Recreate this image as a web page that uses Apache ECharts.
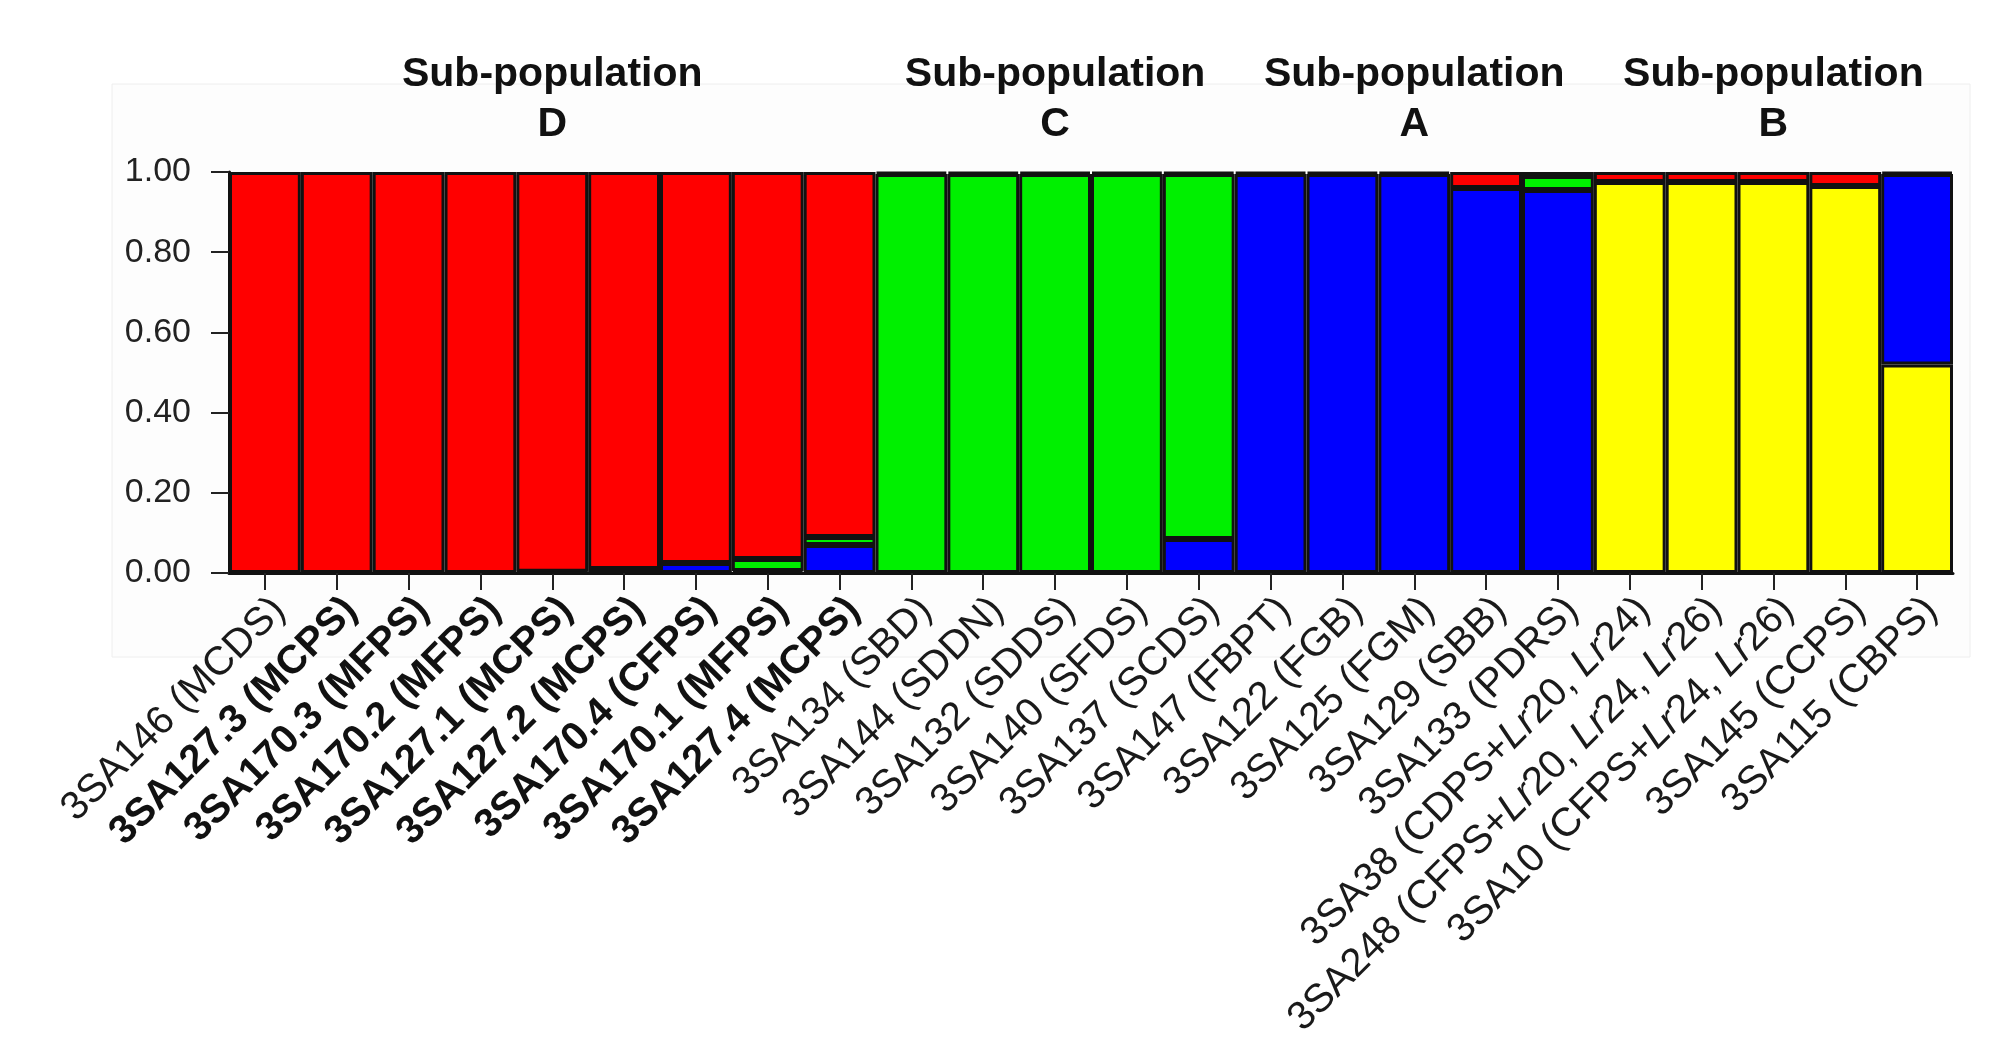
<!DOCTYPE html>
<html><head><meta charset="utf-8">
<script src="https://cdn.jsdelivr.net/npm/echarts@6/dist/echarts.min.js"></script>
<style>html,body{margin:0;padding:0;background:#fff}#c{width:2015px;height:1037px}</style>
</head><body><div id="c"></div>
<script>
// ---- data ----
const samples = [
  '3SA146 (MCDS)', '3SA127.3 (MCPS)', '3SA170.3 (MFPS)', '3SA170.2 (MFPS)', '3SA127.1 (MCPS)',
  '3SA127.2 (MCPS)', '3SA170.4 (CFPS)', '3SA170.1 (MFPS)', '3SA127.4 (MCPS)',
  '3SA134 (SBD)', '3SA144 (SDDN)', '3SA132 (SDDS)', '3SA140 (SFDS)', '3SA137 (SCDS)',
  '3SA147 (FBPT)', '3SA122 (FGB)', '3SA125 (FGM)', '3SA129 (SBB)', '3SA133 (PDRS)',
  '3SA38 (CDPS+Lr20, Lr24)', '3SA248 (CFPS+Lr20, Lr24, Lr26)', '3SA10 (CFPS+Lr24, Lr26)',
  '3SA145 (CCPS)', '3SA115 (CBPS)'
];
const boldSamples = ['3SA127.3 (MCPS)', '3SA170.3 (MFPS)', '3SA170.2 (MFPS)', '3SA127.1 (MCPS)',
  '3SA127.2 (MCPS)', '3SA170.4 (CFPS)', '3SA170.1 (MFPS)', '3SA127.4 (MCPS)'];
const groupNames = ['D', 'C', 'A', 'B'];
const groupSizes = [9, 5, 5, 5];
const groupTitle = 'Sub-population';

// membership coefficients, stacked bottom -> top: yellow, blue, green, red
const yellowK = [0, 0, 0, 0, 0, 0, 0, 0, 0,
  0, 0, 0, 0, 0,
  0, 0, 0, 0, 0,
  0.975, 0.975, 0.975, 0.965, 0.52];
const blueK = [0, 0, 0, 0, 0.003, 0.01, 0.025, 0.005, 0.07,
  0, 0, 0, 0, 0.085,
  0.995, 0.995, 0.995, 0.96, 0.955,
  0, 0, 0, 0, 0.475];
const greenK = [0, 0, 0, 0, 0, 0, 0, 0.03, 0.02,
  0.995, 0.995, 0.995, 0.995, 0.91,
  0, 0, 0, 0, 0.035,
  0, 0, 0, 0, 0];
const redK = [1, 1, 1, 1, 0.997, 0.99, 0.975, 0.965, 0.91,
  0.005, 0.005, 0.005, 0.005, 0.005,
  0.005, 0.005, 0.005, 0.04, 0.01,
  0.025, 0.025, 0.025, 0.035, 0.005];
const yTickLabels = ['0.00', '0.20', '0.40', '0.60', '0.80', '1.00'];

// ---- derived ----
const groupCenters = [];
let acc = 0;
groupSizes.forEach(n => { groupCenters.push(acc + n / 2); acc += n; });

const chart = echarts.init(document.getElementById('c'), null, {renderer: 'canvas'});
const FONT = '"Liberation Sans", Arial, Helvetica, sans-serif';
const LBL = 40;
const clean = arr => arr.map(v => (v === 0 ? null : v));

function mkSeries(name, data, color) {
  return {
    name, type: 'bar', stack: 'k', data: clean(data), xAxisIndex: 0, yAxisIndex: 0,
    barCategoryGap: '0%', barGap: '0%',
    itemStyle: {color, borderColor: '#111', borderWidth: 3},
    emphasis: {disabled: true}, animation: false
  };
}

function xLabel(v) {
  const isBold = boldSamples.indexOf(v) >= 0;
  if (isBold) return '{b|' + v + '}';
  if (v.indexOf('Lr') >= 0) {
    return v.split('Lr').map((p, i) => (i > 0 ? '{i|Lr}' : '') + (p ? '{n|' + p + '}' : '')).join('');
  }
  return '{n|' + v + '}';
}

const option = {
  backgroundColor: '#ffffff',
  animation: false,
  graphic: [{
    type: 'rect', z: -100, silent: true,
    shape: {x: 112, y: 84, width: 1858, height: 573},
    style: {fill: '#fdfdfd', stroke: '#eeeeee', lineWidth: 1}
  }],
  grid: {left: 229, right: 62, top: 172, bottom: 464, containLabel: false, outerBoundsMode: 'none'},
  xAxis: [{
    type: 'category', data: samples, position: 'bottom',
    axisLine: {show: true, lineStyle: {color: '#111', width: 3}},
    axisTick: {show: true, alignWithLabel: true, length: 17, lineStyle: {color: '#222', width: 2}},
    axisLabel: {
      interval: 0, rotate: 45, margin: 17, verticalAlign: 'top',
      formatter: xLabel,
      rich: {
        n: {fontFamily: FONT, fontSize: LBL, color: '#1a1a1a'},
        b: {fontFamily: FONT, fontSize: LBL, fontWeight: 'bold', color: '#111'},
        i: {fontFamily: FONT, fontSize: LBL, fontStyle: 'italic', color: '#1a1a1a'}
      }
    },
    splitLine: {show: false}
  }, {
    type: 'value', position: 'top', min: 0, max: samples.length, interval: 0.5,
    axisLine: {show: false}, axisTick: {show: false}, splitLine: {show: false},
    axisLabel: {
      margin: 22, fontFamily: FONT, fontSize: 41, fontWeight: 'bold', color: '#111',
      lineHeight: 50, align: 'center',
      formatter: function (v) {
        for (let i = 0; i < groupCenters.length; i++) {
          if (Math.abs(v - groupCenters[i]) < 1e-6) return groupTitle + '\n' + groupNames[i];
        }
        return '';
      }
    }
  }],
  yAxis: [{
    type: 'value', min: 0, max: 1, interval: 0.2,
    axisLine: {show: true, lineStyle: {color: '#111', width: 3}},
    axisTick: {show: true, length: 18, lineStyle: {color: '#222', width: 2}},
    axisLabel: {
      margin: 38, fontFamily: FONT, fontSize: 34, color: '#222',
      formatter: v => yTickLabels[Math.round(v / 0.2)]
    },
    splitLine: {show: false}
  }],
  series: [
    mkSeries('Yellow', yellowK, '#FFFF00'),
    mkSeries('Blue', blueK, '#0000FF'),
    mkSeries('Green', greenK, '#00F000'),
    mkSeries('Red', redK, '#FF0000')
  ]
};
chart.setOption(option);
</script>
</body></html>
